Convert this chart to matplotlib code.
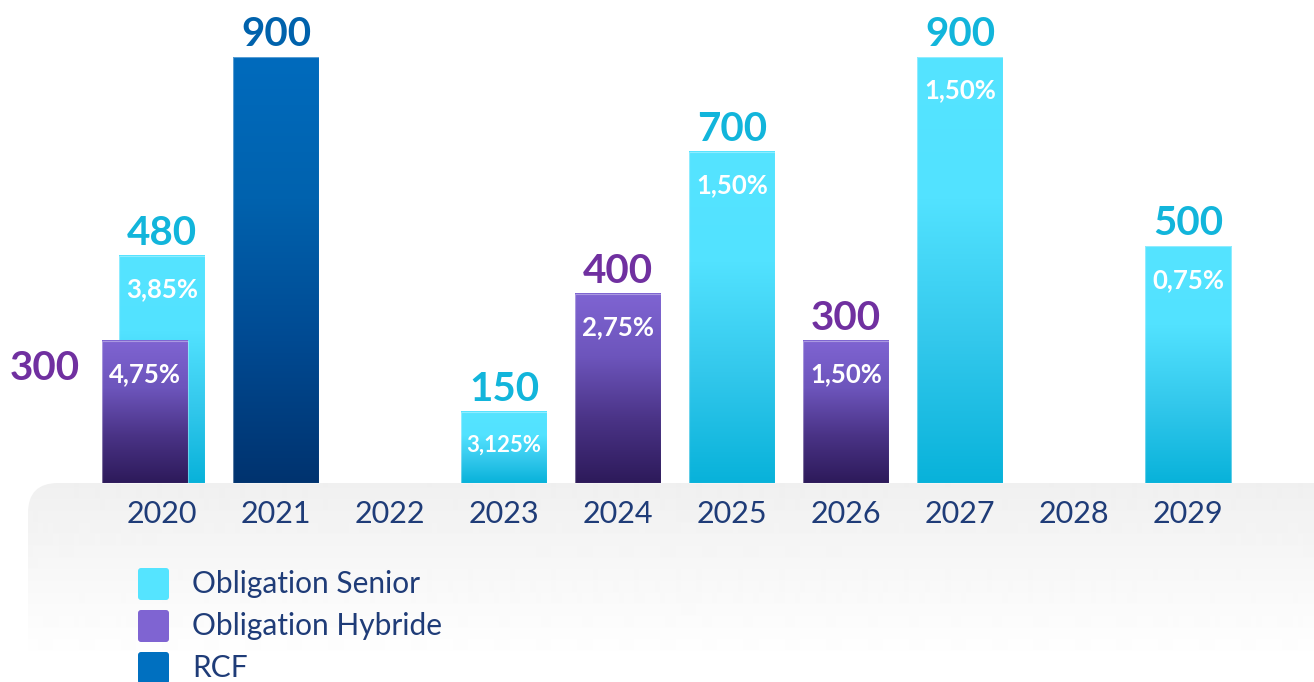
"""
Echeancier de la dette - barres par annee (obligations senior / hybride / RCF).
"""

import numpy as np
import matplotlib.pyplot as plt
from matplotlib.colors import LinearSegmentedColormap
from matplotlib.patches import FancyBboxPatch

plt.rcParams["font.family"] = ["Lato", "DejaVu Sans"]

years       = ["2020", "2021", "2022", "2023", "2024", "2025", "2026", "2027", "2028", "2029"]
senior      = [480, 0, 0, 150, 0, 700, 0, 900, 0, 500]
senior_rate = ["3,85%", "", "", "3,125%", "", "1,50%", "", "1,50%", "", "0,75%"]
hybrid      = [300, 0, 0, 0, 400, 0, 300, 0, 0, 0]
hybrid_rate = ["4,75%", "", "", "", "2,75%", "", "1,50%", "", "", ""]
rcf         = [0, 900, 0, 0, 0, 0, 0, 0, 0, 0]
legend_lbl  = ["Obligation Senior", "Obligation Hybride", "RCF"]

W, H = 1314, 682
X0, DX = 162, 114          # pixel centre of first slot, slot spacing
BASE_Y, PX_PER = 483, 426 / 900
BAR_W = 86 / DX
OFFSET = 17 / DX

C_SENIOR = ["#08b2da", "#33c8ec", "#52e2ff", "#55e4ff"]
C_HYBRID = ["#2d1a5a", "#4a3386", "#6d55bc", "#7f64d2"]
C_RCF    = ["#00336f", "#004a92", "#0062ae", "#006bbd"]
LBL_SENIOR, LBL_HYBRID, LBL_RCF = "#12b5db", "#7030a0", "#0062ac"
NAVY = "#1f3c78"

fig = plt.figure(figsize=(W / 100, H / 100), dpi=100, facecolor="white")

# background panel (pixel coords)
bg = fig.add_axes([0, 0, 1, 1], zorder=0)
bg.set_xlim(0, W)
bg.set_ylim(H, 0)
bg.axis("off")
panel = FancyBboxPatch((28, BASE_Y), 1330, 320,
                       boxstyle="round,pad=0,rounding_size=30",
                       facecolor="none", edgecolor="none")
bg.add_patch(panel)
grad = np.linspace(0.94, 1.0, 180).reshape(-1, 1)
grad = np.concatenate([grad, np.ones((80, 1))])
im = bg.imshow(grad, extent=(28, 1358, BASE_Y + 260, BASE_Y), origin="upper",
               cmap="gray", vmin=0, vmax=1, aspect="auto", interpolation="bilinear")
im.set_clip_path(panel)

# main axes in data units
ax = fig.add_axes([0, 0, 1, 1], zorder=1)
ax.patch.set_alpha(0)
ax.axis("off")
xlim = ((0 - X0) / DX, (W - X0) / DX)
ylim = (-(H - BASE_Y) / PX_PER, BASE_Y / PX_PER)


def grad_bar(x, h, colors, z):
    cmap = LinearSegmentedColormap.from_list("g", colors)
    g = np.linspace(0, 1, 256).reshape(-1, 1)
    ax.imshow(g, extent=(x - BAR_W / 2, x + BAR_W / 2, 0, h), origin="lower",
              cmap=cmap, aspect="auto", interpolation="bilinear", zorder=z)
    ax.bar(x, h, width=BAR_W, facecolor="none", edgecolor=(1, 1, 1, 0.35),
           linewidth=0.8, zorder=z + 0.1)


def rate_label(x, h, txt):
    ax.annotate(txt, (x, h), xytext=(0, -24), textcoords="offset points",
                ha="center", va="center", color="white", fontweight="bold",
                fontsize=16 if len(txt) > 5 else 18.5, zorder=10)


def top_label(x, h, color):
    ax.annotate(str(h), (x, h), xytext=(0, 8), textcoords="offset points",
                ha="center", va="baseline", color=color, fontsize=29,
                fontweight="bold", zorder=10)


idx = np.arange(len(years))
for i in idx:
    if senior[i]:
        grad_bar(i, senior[i], C_SENIOR, 2)
        top_label(i, senior[i], LBL_SENIOR)
        rate_label(i, senior[i], senior_rate[i])
    if hybrid[i]:
        xh = i - OFFSET if senior[i] else i
        grad_bar(xh, hybrid[i], C_HYBRID, 4)
        if senior[i]:
            ax.annotate(str(hybrid[i]), (xh - BAR_W / 2, hybrid[i]), xytext=(-16, -20),
                        textcoords="offset points", ha="right", va="center",
                        color=LBL_HYBRID, fontsize=29, fontweight="bold")
        else:
            top_label(xh, hybrid[i], LBL_HYBRID)
        rate_label(xh, hybrid[i], hybrid_rate[i])
    if rcf[i]:
        grad_bar(i, rcf[i], C_RCF, 2)
        top_label(i, rcf[i], LBL_RCF)
    ax.annotate(years[i], (i, 0), xytext=(0, -22), textcoords="offset points",
                ha="center", va="center", color=NAVY, fontsize=22)

ax.set_xlim(*xlim)
ax.set_ylim(*ylim)

# legend
for k, (lbl, col) in enumerate(zip(legend_lbl, [C_SENIOR[-1], C_HYBRID[-1], "#0070c0"])):
    yc = 584 + 42 * k
    sq = FancyBboxPatch((138, yc - 16), 31, 32, boxstyle="round,pad=0,rounding_size=3",
                        facecolor=col, edgecolor="none")
    bg.add_patch(sq)
    bg.text(192, yc, lbl, ha="left", va="center", color=NAVY, fontsize=21.5)

fig.savefig("out.png", dpi=100, facecolor="white")
